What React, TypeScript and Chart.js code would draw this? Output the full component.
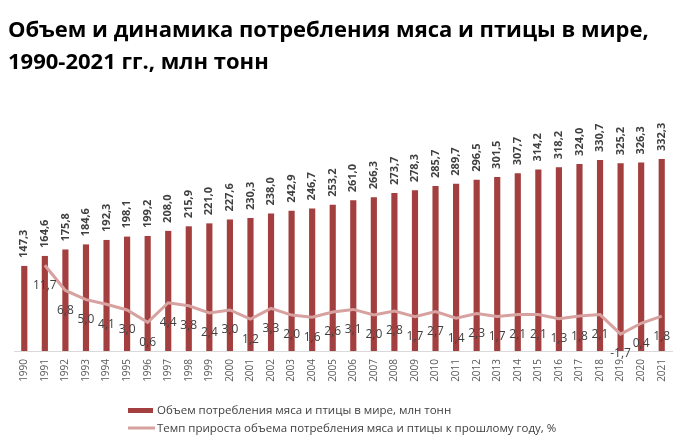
import React, { useEffect, useRef } from "react";
import { Chart, registerables } from "chart.js";

Chart.register(...registerables);

const years = [
  "1990", "1991", "1992", "1993", "1994", "1995", "1996", "1997", "1998", "1999",
  "2000", "2001", "2002", "2003", "2004", "2005", "2006", "2007", "2008", "2009",
  "2010", "2011", "2012", "2013", "2014", "2015", "2016", "2017", "2018", "2019",
  "2020", "2021",
];

const consumption = [
  147.3, 164.6, 175.8, 184.6, 192.3, 198.1, 199.2, 208.0, 215.9, 221.0,
  227.6, 230.3, 238.0, 242.9, 246.7, 253.2, 261.0, 266.3, 273.7, 278.3,
  285.7, 289.7, 296.5, 301.5, 307.7, 314.2, 318.2, 324.0, 330.7, 325.2,
  326.3, 332.3,
];

const growth: (number | null)[] = [
  null, 11.7, 6.8, 5.0, 4.1, 3.0, 0.6, 4.4, 3.8, 2.4,
  3.0, 1.2, 3.3, 2.0, 1.6, 2.6, 3.1, 2.0, 2.8, 1.7,
  2.7, 1.4, 2.3, 1.7, 2.1, 2.1, 1.3, 1.8, 2.1, -1.7,
  0.4, 1.8,
];

const titleLines = [
  "Объем и динамика потребления мяса и птицы в мире,",
  "1990-2021 гг., млн тонн",
];
const barLabel = "Объем потребления мяса и птицы в мире, млн тонн";
const lineLabel = "Темп прироста объема потребления мяса и птицы к прошлому году, %";

const BAR_COLOR = "#A33F3F";
const LINE_COLOR = "#D7A1A0";
const TEXT_COLOR = "#404040";
const FONT = '"Open Sans", "Noto Sans", sans-serif';

const fmt = (v: number) => v.toFixed(1).replace(".", ",");

const labelsPlugin = {
  id: "customLabels",
  afterDatasetsDraw(chart: any) {
    const ctx = chart.ctx;
    const barMeta = chart.getDatasetMeta(0);
    const lineMeta = chart.getDatasetMeta(1);
    ctx.save();
    ctx.fillStyle = TEXT_COLOR;
    ctx.font = `bold 11px ${FONT}`;
    ctx.textAlign = "left";
    ctx.textBaseline = "middle";
    barMeta.data.forEach((el: any, i: number) => {
      ctx.save();
      ctx.translate(el.x, el.y - 8);
      ctx.rotate(-Math.PI / 2);
      ctx.fillText(fmt(consumption[i]), 0, 0);
      ctx.restore();
    });
    ctx.font = `12px ${FONT}`;
    ctx.textAlign = "center";
    lineMeta.data.forEach((el: any, i: number) => {
      const v = growth[i];
      if (v === null || el.skip) return;
      ctx.fillText(fmt(v), el.x, el.y + 20);
    });
    ctx.restore();
  },
  afterDraw(chart: any) {
    const ctx = chart.ctx;
    ctx.save();
    ctx.fillStyle = "#000000";
    ctx.font = `bold 22px ${FONT}`;
    ctx.textAlign = "left";
    ctx.textBaseline = "alphabetic";
    ctx.fillText(titleLines[0], 8, 37);
    ctx.fillText(titleLines[1], 8, 69);

    ctx.fillStyle = BAR_COLOR;
    ctx.fillRect(128, 408, 25, 5);
    ctx.strokeStyle = LINE_COLOR;
    ctx.lineWidth = 3;
    ctx.beginPath();
    ctx.moveTo(128, 428);
    ctx.lineTo(155, 428);
    ctx.stroke();
    ctx.fillStyle = TEXT_COLOR;
    ctx.font = `11.5px ${FONT}`;
    ctx.textBaseline = "middle";
    ctx.fillText(barLabel, 157, 411);
    ctx.fillText(lineLabel, 157, 429);
    ctx.restore();
  },
};

export default function App() {
  const ref = useRef<HTMLCanvasElement>(null);
  useEffect(() => {
    if (!ref.current) return;
    const chart = new Chart(ref.current, {
      type: "bar",
      data: {
        labels: years,
        datasets: [
          {
            type: "bar",
            label: barLabel,
            data: consumption,
            backgroundColor: BAR_COLOR,
            barPercentage: 0.3,
            categoryPercentage: 1,
            yAxisID: "y",
            order: 2,
          },
          {
            type: "line",
            label: lineLabel,
            data: growth,
            borderColor: LINE_COLOR,
            borderWidth: 3,
            pointRadius: 0,
            tension: 0,
            yAxisID: "y1",
            order: 1,
          } as any,
        ],
      },
      options: {
        animation: false,
        responsive: false,
        layout: { padding: { left: 14, right: 16, top: 120, bottom: 0 } },
        plugins: {
          legend: { display: false },
          tooltip: { enabled: false },
          title: { display: false },
        },
        scales: {
          x: {
            grid: { display: false, drawTicks: false },
            border: { display: true, color: "#D9D9D9", width: 1 },
            ticks: {
              autoSkip: false,
              minRotation: 90,
              maxRotation: 90,
              padding: 8,
              color: "#595959",
              font: { family: FONT, size: 10 },
            },
            afterFit(scale: any) {
              scale.height = 97;
            },
          },
          y: { display: false, min: 0, max: 400 },
          y1: { display: false, min: -5, max: 40, position: "right" },
        },
      },
      plugins: [labelsPlugin],
    });
    return () => chart.destroy();
  }, []);
  return (
    <div style={{ position: "absolute", left: 0, top: 0, width: 688, height: 448, background: "#fff" }}>
      <canvas ref={ref} width={688} height={448} />
    </div>
  );
}
